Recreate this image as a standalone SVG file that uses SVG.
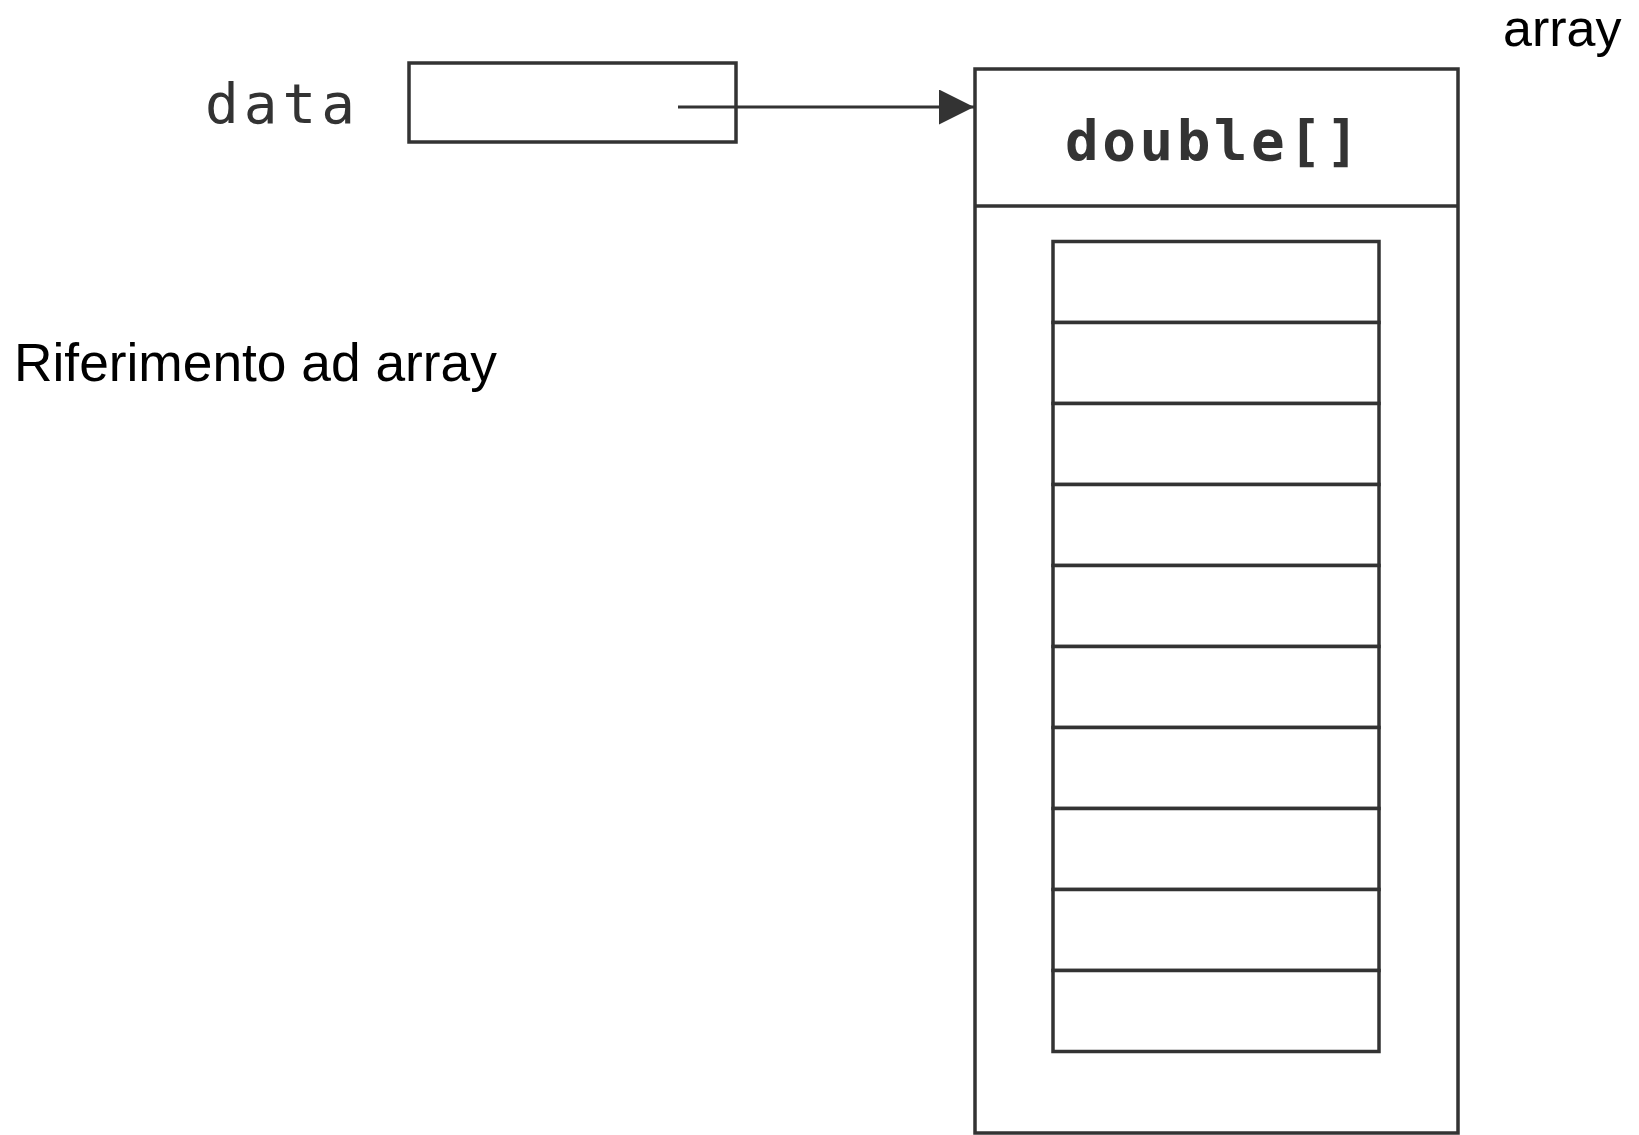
<svg xmlns="http://www.w3.org/2000/svg" width="1639" height="1135" viewBox="0 0 1639 1135">
  <style>
    .box { fill: #ffffff; stroke: #333333; stroke-width: 3.5; }
    .cell { fill: #ffffff; stroke: #333333; stroke-width: 3.5; }
    .mono { font-family: "DejaVu Sans Mono", "Liberation Mono", monospace; fill: #333333; }
    .label { font-family: "Liberation Sans", Arial, sans-serif; fill: #000000; }
    .conn { stroke: #333333; stroke-width: 3; fill: none; }
  </style>
  <defs>
    <marker id="arrowhead" markerUnits="userSpaceOnUse" markerWidth="36" markerHeight="36" refX="35" refY="17.5" orient="auto">
      <path d="M0,0 L35,17.5 L0,35 Z" fill="#333333"/>
    </marker>
  </defs>
  <rect width="1639" height="1135" fill="#ffffff"/>

  <!-- free labels -->
  <text class="label" x="1503" y="46" font-size="52">array</text>
  <text class="label" x="14" y="381" font-size="53.3">Riferimento ad array</text>

  <!-- reference variable -->
  <g id="data-var">
    <text class="mono" x="205" y="123" font-size="56" letter-spacing="5">data</text>
    <rect class="box" x="409" y="63" width="327" height="79"/>
  </g>

  <!-- array object -->
  <g id="array-object">
    <rect class="box" x="975" y="69" width="483" height="1064"/>
    <line class="box" x1="975" y1="206" x2="1458" y2="206"/>
    <text class="mono" x="1065" y="160" font-size="56" font-weight="bold" letter-spacing="3.5">double[]</text>
  </g>

  <!-- array slots -->
  <g id="array-cells">
    <rect class="cell" x="1053" y="241.5" width="326" height="81"/>
    <rect class="cell" x="1053" y="322.5" width="326" height="81"/>
    <rect class="cell" x="1053" y="403.5" width="326" height="81"/>
    <rect class="cell" x="1053" y="484.5" width="326" height="81"/>
    <rect class="cell" x="1053" y="565.5" width="326" height="81"/>
    <rect class="cell" x="1053" y="646.5" width="326" height="81"/>
    <rect class="cell" x="1053" y="727.5" width="326" height="81"/>
    <rect class="cell" x="1053" y="808.5" width="326" height="81"/>
    <rect class="cell" x="1053" y="889.5" width="326" height="81"/>
    <rect class="cell" x="1053" y="970.5" width="326" height="81"/>
  </g>

  <!-- connectors -->
  <g id="connectors">
    <line class="conn" x1="678" y1="107" x2="974" y2="107" marker-end="url(#arrowhead)"/>
  </g>
</svg>
